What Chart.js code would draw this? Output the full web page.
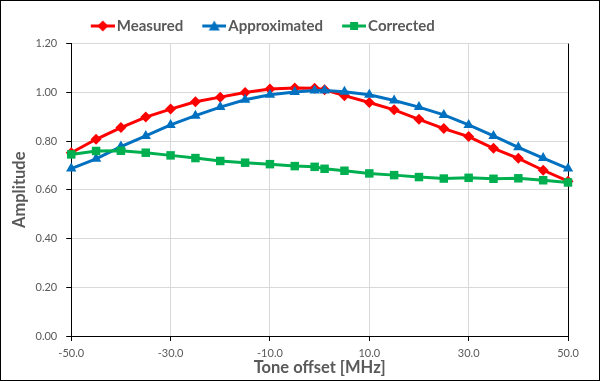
<!DOCTYPE html>
<html lang="en">
<head>
  <meta charset="UTF-8">
  <title>Tone offset amplitude</title>
  <script src="https://cdn.jsdelivr.net/npm/chart.js"></script>
  <style>
    body { margin: 0; background: #fff; }
    .frame { width: 600px; height: 381px; border: 1px solid #000; box-sizing: border-box; background: #fff; }
  </style>
</head>
<body>
  <div class="frame"><canvas id="toneChart" width="598" height="379"></canvas></div>
  <script>
    const offsets = [-50, -45, -40, -35, -30, -25, -20, -15, -10, -5, -1, 1, 5, 10, 15, 20, 25, 30, 35, 40, 45, 50];
    const measured = [0.752, 0.807, 0.855, 0.898, 0.931, 0.961, 0.980, 0.999, 1.013, 1.017, 1.016, 1.010, 0.986, 0.958, 0.928, 0.889, 0.851, 0.818, 0.770, 0.729, 0.680, 0.635];
    const approximated = [0.687, 0.727, 0.777, 0.821, 0.866, 0.904, 0.939, 0.969, 0.990, 1.001, 1.007, 1.007, 1.002, 0.990, 0.966, 0.939, 0.907, 0.866, 0.821, 0.774, 0.730, 0.687];
    const corrected = [0.745, 0.759, 0.760, 0.752, 0.741, 0.730, 0.718, 0.711, 0.705, 0.697, 0.694, 0.686, 0.678, 0.667, 0.660, 0.652, 0.646, 0.649, 0.645, 0.647, 0.639, 0.630];
    const xTicks = [-50, -30, -10, 10, 30, 50];
    const seriesNames = ['Measured', 'Approximated', 'Corrected'];
    const seriesColors = ['#ff0000', '#0070c0', '#00b050'];
    const seriesMarkers = ['rectRot', 'triangle', 'rect'];

    const textGray = '#595959';
    const fontFam = 'Lato, "Open Sans", sans-serif';

    function points(ys) {
      return offsets.map((x, i) => ({ x: x, y: ys[i] }));
    }

    // "line + marker" picture for the legend; 36 wide, drawn over a 25 wide box,
    // so it spills 5.5px into the text gap (text sits close to the line)
    function legendIcon(color, marker) {
      const c = document.createElement('canvas');
      c.width = 36; c.height = 14;
      const g = c.getContext('2d');
      g.strokeStyle = color; g.fillStyle = color; g.lineWidth = 3;
      g.beginPath(); g.moveTo(12, 7); g.lineTo(36, 7); g.stroke();
      g.beginPath();
      if (marker === 'rectRot') {
        g.moveTo(24, 1.5); g.lineTo(29.5, 7); g.lineTo(24, 12.5); g.lineTo(18.5, 7);
      } else if (marker === 'triangle') {
        g.moveTo(24, 1.5); g.lineTo(29.5, 11.5); g.lineTo(18.5, 11.5);
      } else {
        g.rect(20, 3, 8, 8);
      }
      g.closePath(); g.fill();
      return c;
    }

    // the legend in the original sits left of centre
    const legendShift = {
      id: 'legendShift',
      afterLayout(chart) {
        if (chart.legend) {
          chart.legend.left -= 30;
          chart.legend.right -= 30;
        }
      }
    };

    const allSeries = [measured, approximated, corrected];
    const datasets = allSeries.map((ys, i) => ({
      label: seriesNames[i],
      data: points(ys),
      borderColor: seriesColors[i],
      backgroundColor: seriesColors[i],
      borderWidth: 3,
      pointStyle: seriesMarkers[i],
      pointRadius: seriesMarkers[i] === 'rectRot' ? 5.5 : 6,
      pointBorderWidth: 0,
      tension: 0,
      clip: false,
      order: 3 - i
    }));

    const ctx = document.getElementById('toneChart').getContext('2d');
    new Chart(ctx, {
      type: 'line',
      data: { datasets: datasets },
      plugins: [legendShift],
      options: {
        responsive: false,
        animation: false,
        layout: { padding: { left: 10, right: 31, top: 5, bottom: 0 } },
        plugins: {
          tooltip: { enabled: false },
          legend: {
            position: 'top',
            labels: {
              usePointStyle: true,
              pointStyleWidth: 25,
              color: textGray,
              font: { family: fontFam, size: 15, weight: 'bold' },
              padding: 12.5,
              generateLabels: () => seriesNames.map((name, i) => ({
                text: name,
                fontColor: textGray,
                pointStyle: legendIcon(seriesColors[i], seriesMarkers[i]),
                datasetIndex: i,
                lineWidth: 0,
                hidden: false
              }))
            }
          }
        },
        scales: {
          x: {
            type: 'linear',
            min: -50,
            max: 50,
            afterBuildTicks: s => { s.ticks = xTicks.map(v => ({ value: v })); },
            ticks: {
              color: textGray,
              padding: 7,
              font: { family: fontFam, size: 11, lineHeight: 1 },
              callback: v => v.toFixed(1)
            },
            grid: {
              color: c => (c.tick && (c.tick.value === 50 || c.tick.value === -50)) ? '#000' : '#d9d9d9',
              tickColor: '#000',
              tickLength: 5,
              lineWidth: 1
            },
            border: { color: '#000', width: 1 },
            title: {
              display: true,
              text: 'Tone offset [MHz]',
              color: textGray,
              font: { family: fontFam, size: 16.5, weight: 'bold', lineHeight: 1 },
              padding: { top: -6.5, bottom: 4 }
            }
          },
          y: {
            min: 0,
            max: 1.2,
            ticks: {
              stepSize: 0.2,
              color: textGray,
              padding: 9,
              font: { family: fontFam, size: 11 },
              callback: v => v.toFixed(2)
            },
            grid: { color: '#d9d9d9', tickColor: '#000', tickLength: 5 },
            border: { color: '#000', width: 1 },
            title: {
              display: true,
              text: 'Amplitude',
              color: textGray,
              font: { family: fontFam, size: 16.5, weight: 'bold', lineHeight: 1 },
              padding: { top: 0, bottom: -1 }
            }
          }
        }
      }
    });
  </script>
</body>
</html>
